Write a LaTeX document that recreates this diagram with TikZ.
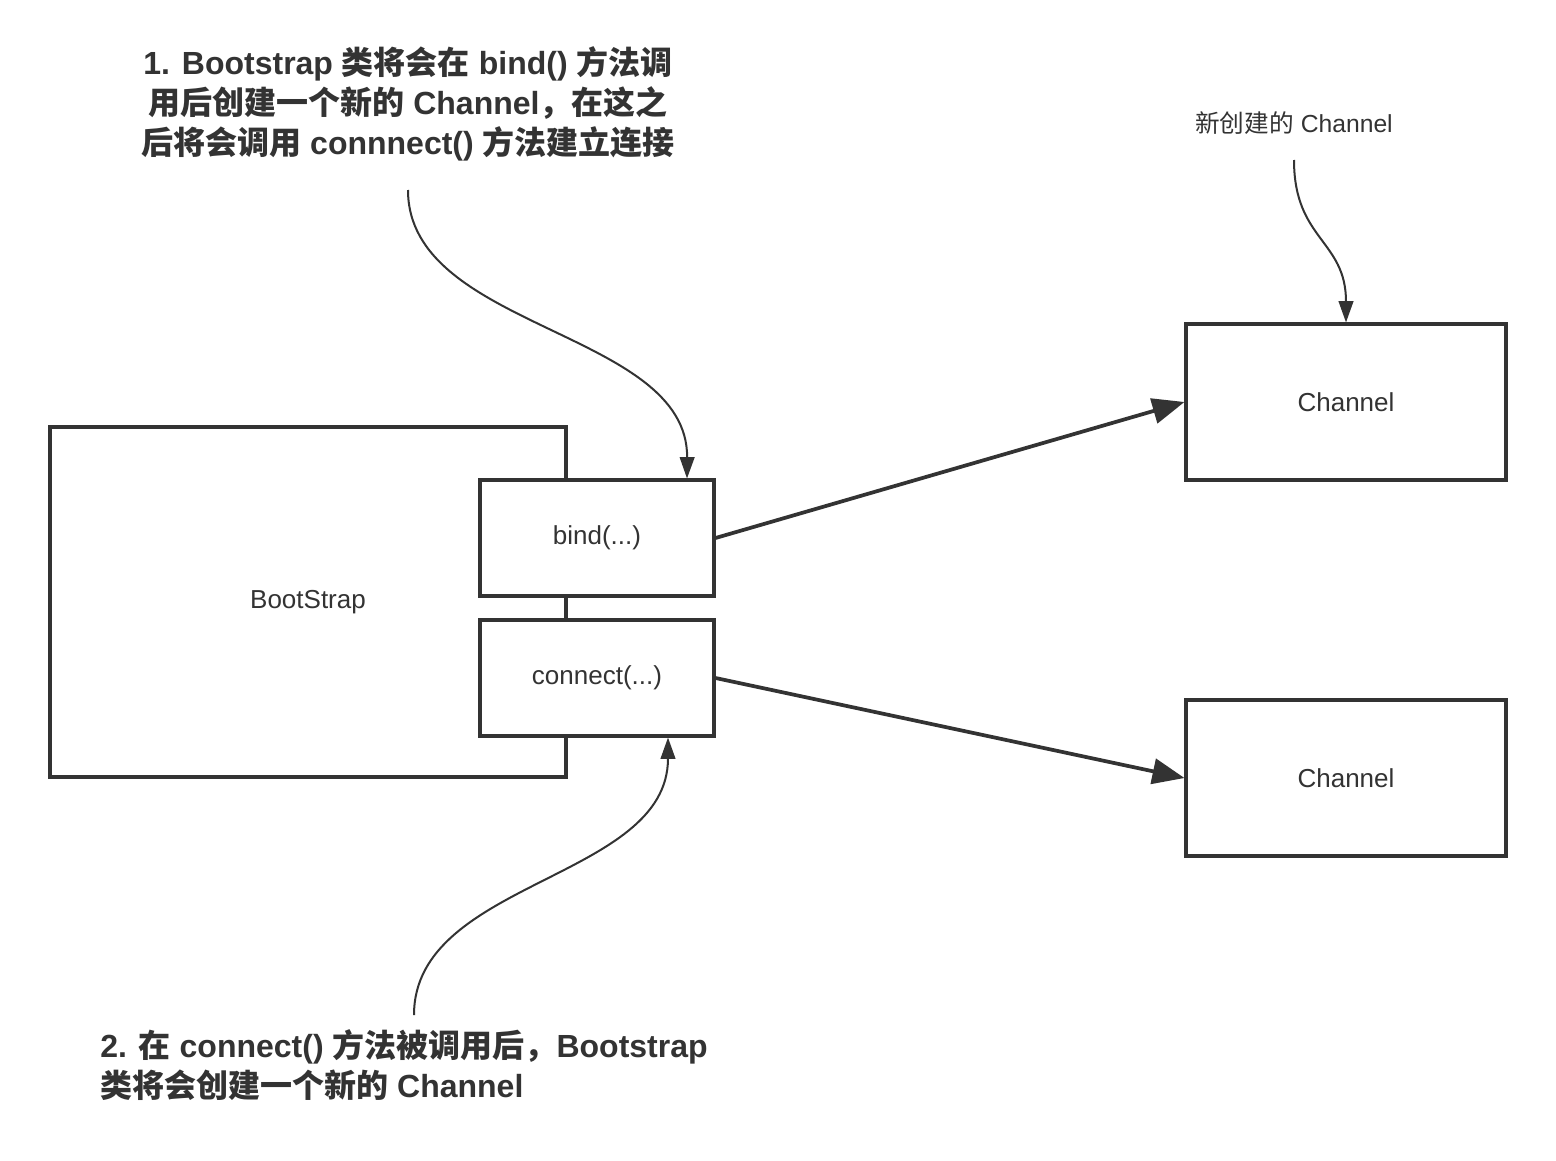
\documentclass[tikz,border=0pt]{standalone}
\usepackage{fontspec}
\setmainfont{Liberation Sans}
\newfontfamily\cjk{Noto Sans CJK SC}
\newcommand\zhs[1]{{\cjk #1}}
\usetikzlibrary{arrows.meta}
\definecolor{ink}{HTML}{333333}
\begin{document}
\begin{tikzpicture}[x=0.75pt,y=-0.75pt,
  box/.style={draw=ink,line width=2.3pt,fill=white,inner sep=0pt,text=ink,font=\fontsize{19.5}{23}\selectfont},
  thickarrow/.style={draw=ink,line width=2.8pt,-{Triangle[length=24pt,width=19pt]}},
  thinarrow/.style={draw=ink,line width=1.5pt,-{Triangle[length=16pt,width=11pt]}},
  note/.style={text=ink,inner sep=0pt},
]
\useasboundingbox[fill=white] (0,0) rectangle (1556,1160);
% boxes
\node[box,minimum width=387pt,minimum height=262.5pt] (boot) at (308,602) {BootStrap};
\node[box,minimum width=175.5pt,minimum height=87pt] (bind) at (597,538) {bind(...)};
\node[box,minimum width=175.5pt,minimum height=87pt] (conn) at (597,678) {connect(...)};
\node[box,minimum width=240pt,minimum height=117pt] (ch1) at (1346,402) {Channel};
\node[box,minimum width=240pt,minimum height=117pt] (ch2) at (1346,778) {Channel};
% notes
\node[note,align=center,anchor=north,font=\fontsize{24}{30}\selectfont\bfseries] (n1) at (408,46)
  {1. Bootstrap \zhs{类将会在} bind() \zhs{方法调}\\
   \zhs{用后创建一个新的} Channel\zhs{，在这之}\\
   \zhs{后将会调用} connnect() \zhs{方法建立连接}};
\node[note,align=left,anchor=north west,font=\fontsize{24}{30}\selectfont\bfseries] (n2) at (100,1029)
  {2. \zhs{在} connect() \zhs{方法被调用后，}Bootstrap\\
   \zhs{类将会创建一个新的} Channel};
\node[note,anchor=center,font=\fontsize{18.5}{22}\selectfont] (n3) at (1294,123)
  {\zhs{新创建的} Channel};
\coordinate (s1) at (408,190);
\coordinate (s2) at (414,1015);
\coordinate (s3) at (1294,160);
% connectors
\draw[thickarrow] (bind.east) -- (ch1.west);
\draw[thickarrow] (conn.east) -- (ch2.west);
\draw[thinarrow] (s1) .. controls (408,330) and (688,330) .. ([xshift=67.5pt]bind.north);
\draw[thinarrow] (s2) .. controls (414,880) and (668,880) .. ([xshift=53.25pt]conn.south);
\draw[thinarrow] (s3) .. controls (1294,240) and (1346,240) .. (ch1.north);
\end{tikzpicture}
\end{document}
